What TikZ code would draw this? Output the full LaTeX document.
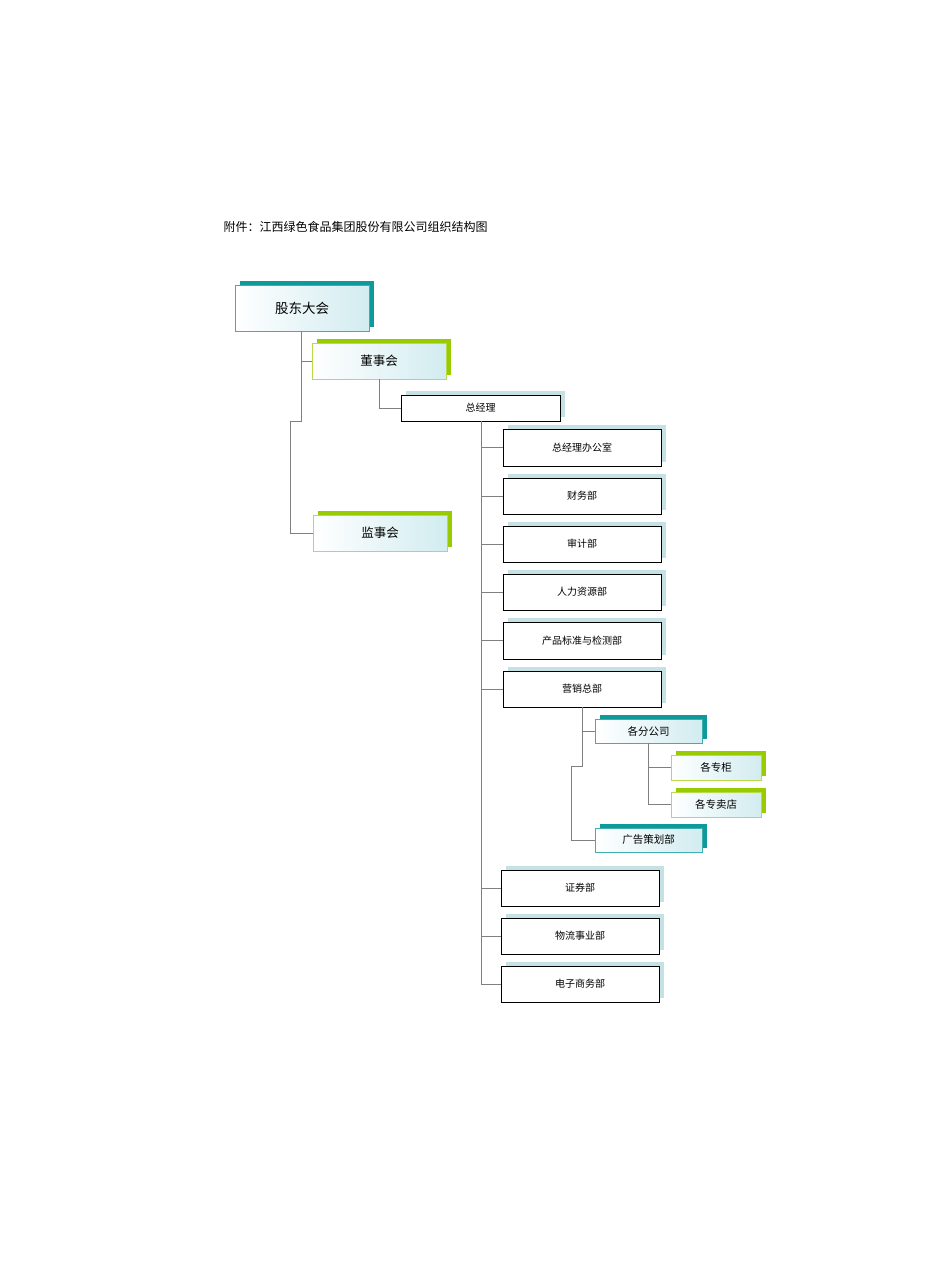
\documentclass[tikz,border=0pt]{standalone}
\usepackage{fontspec}
\setmainfont{Noto Sans CJK SC}
\definecolor{teal1}{HTML}{0E9A9A}
\definecolor{green1}{HTML}{99CC00}
\definecolor{ltblue}{HTML}{C4E2E4}
\definecolor{grad}{HTML}{D2ECF0}
\definecolor{lnc}{HTML}{808080}
\begin{document}
\begin{tikzpicture}[x=1pt,y=-1pt,
  conn/.style={draw=lnc,line width=0.8pt},
  plain/.style={draw=black,fill=white,line width=0.7pt},
  fancy/.style={left color=white,right color=grad,line width=0.7pt}]
\useasboundingbox (0,0) rectangle (950,1267);
\node[anchor=west,font=\fontsize{12}{14}\selectfont] (title) at (220,227) {附件：江西绿色食品集团股份有限公司组织结构图};
% box macro: #1 name, #2 x1,#3 y1,#4 x2,#5 y2,#6 shadow color,#7 style,#8 border,#9 text
\newcommand{\obox}[9]{%
  \fill[#6] (#2+5,#3-4) rectangle (#4+5,#5-4);
  \path[#7,draw=#8] (#2,#3) rectangle (#4,#5);
  \node (#1) at ({(#2+#4)/2},{(#3+#5)/2}) [minimum width=#4-#2, minimum height=#5-#3, inner sep=0pt] {#9};}
\obox{gd}{235}{285}{369}{331}{teal1}{fancy}{teal1!80}{\fontsize{13.5}{15}\selectfont 股东大会}
\obox{ds}{312}{343}{446}{379}{green1}{fancy}{green1!70}{\fontsize{12.5}{14}\selectfont 董事会}
\obox{js}{313}{515}{447}{551}{green1}{fancy}{green1!70}{\fontsize{12.5}{14}\selectfont 监事会}
\obox{zjl}{401}{395}{560}{421}{ltblue}{plain}{black}{\fontsize{10}{12}\selectfont 总经理}
\obox{b1}{503}{429}{661}{466}{ltblue}{plain}{black}{\fontsize{10}{12}\selectfont 总经理办公室}
\obox{b2}{503}{478}{661}{514}{ltblue}{plain}{black}{\fontsize{10}{12}\selectfont 财务部}
\obox{b3}{503}{526}{661}{562}{ltblue}{plain}{black}{\fontsize{10}{12}\selectfont 审计部}
\obox{b4}{503}{574}{661}{610}{ltblue}{plain}{black}{\fontsize{10}{12}\selectfont 人力资源部}
\obox{b5}{503}{622}{661}{659}{ltblue}{plain}{black}{\fontsize{10}{12}\selectfont 产品标准与检测部}
\obox{b6}{503}{671}{661}{707}{ltblue}{plain}{black}{\fontsize{10}{12}\selectfont 营销总部}
\obox{b7}{501}{870}{659}{906}{ltblue}{plain}{black}{\fontsize{10}{12}\selectfont 证券部}
\obox{b8}{501}{918}{659}{954}{ltblue}{plain}{black}{\fontsize{10}{12}\selectfont 物流事业部}
\obox{b9}{501}{966}{659}{1002}{ltblue}{plain}{black}{\fontsize{10}{12}\selectfont 电子商务部}
\obox{fgs}{595}{719}{702}{743}{teal1}{fancy}{teal1!80}{\fontsize{10.5}{12}\selectfont 各分公司}
\obox{gg}{595}{828}{702}{852}{teal1}{fancy}{teal1!80}{\fontsize{10.5}{12}\selectfont 广告策划部}
\obox{zg}{671}{755}{761}{780}{green1}{fancy}{green1!70}{\fontsize{10.5}{12}\selectfont 各专柜}
\obox{zmd}{671}{792}{761}{817}{green1}{fancy}{green1!70}{\fontsize{10.5}{12}\selectfont 各专卖店}
% connectors
\coordinate (k1) at (301,421);
\coordinate (k2) at (290,421);
\draw[conn] (gd.south -| 301,0) |- (ds.west);
\draw[conn] (301,361) -- (k1) -- (k2) |- (js.west);
\draw[conn] (ds.south -| 379,0) |- (zjl.west);
\draw[conn] (zjl.south -| 481,0) -- (481,985);
\foreach \b in {b1,b2,b3,b4,b5,b6,b7,b8,b9}{\draw[conn] (481,0 |- \b.west) -- (\b.west);}
\draw[conn] (b6.south -| 582,0) |- (fgs.west);
\draw[conn] (582,731) -- (582,766) -- (571,766) |- (gg.west);
\draw[conn] (fgs.south -| 648,0) |- (zg.west);
\draw[conn] (648,767) |- (zmd.west);
\end{tikzpicture}
\end{document}
